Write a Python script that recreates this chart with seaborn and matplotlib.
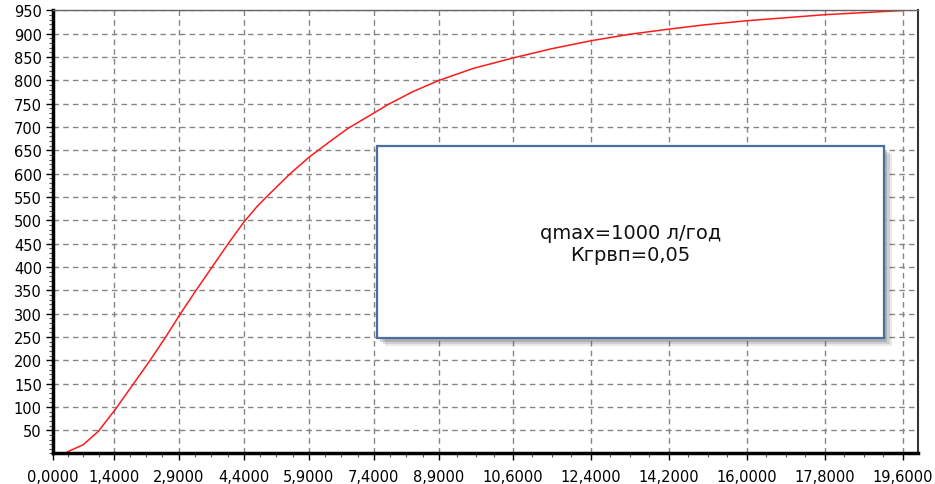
import numpy as np
import pandas as pd
import seaborn as sns
import matplotlib.pyplot as plt
from matplotlib.patches import Rectangle

# Curve
t_values = [0.32, 0.70, 1.05, 1.44, 1.86, 2.24, 2.60, 2.94, 3.30, 3.67, 4.04,
            4.40, 4.70, 4.93, 5.47, 5.90, 6.40, 6.80, 7.40, 7.72, 8.30,
            8.90, 9.70, 10.60, 11.50, 12.40, 13.30, 14.20, 15.00, 16.00,
            17.80, 19.60]
q_values = [3, 19, 48, 95, 150, 200, 250, 300, 350, 400, 450,
            496, 529, 551, 600, 635, 670, 697, 730, 748, 776,
            800, 826, 848, 868, 885, 899, 910, 919, 928,
            941, 950]

x_ticks = [0.0, 1.4, 2.9, 4.4, 5.9, 7.4, 8.9, 10.6, 12.4, 14.2, 16.0, 17.8, 19.6]
x_labels = ['0,0000', '1,4000', '2,9000', '4,4000', '5,9000', '7,4000', '8,9000',
            '10,6000', '12,4000', '14,2000', '16,0000', '17,8000', '19,6000']
y_ticks = list(range(50, 951, 50))

box_text = 'qmax=1000 л/год\nКгрвп=0,05'

df = pd.DataFrame({'t': t_values, 'q': q_values})

sns.set_style("white")
plt.rcParams['font.family'] = ['DejaVu Sans']

fig, ax = plt.subplots(figsize=(9.35, 4.85), dpi=100)
fig.subplots_adjust(left=0.0567, right=0.9818, top=0.9763, bottom=0.0629)

sns.lineplot(data=df, x='t', y='q', color='#ff1a1a', linewidth=1.1, ax=ax)

ax.set_xlim(0, 19.95)
ax.set_ylim(0, 950)
ax.set_xticks(x_ticks)
ax.set_xticklabels(x_labels)
ax.set_yticks(y_ticks)
ax.set_yticklabels([str(v) for v in y_ticks])

# minor ticks between the majors
minor_x = []
for a, b in zip(x_ticks[:-1], x_ticks[1:]):
    minor_x.extend(np.linspace(a, b, 5)[1:-1])
ax.set_xticks(minor_x, minor=True)
ax.set_yticks(np.arange(0, 951, 10), minor=True)

ax.grid(True, which='major', color='#858585', linestyle=(0, (4, 3)), linewidth=1.0)
ax.set_xlabel('')
ax.set_ylabel('')

ax.tick_params(axis='both', which='major', labelsize=10.5, colors='black',
               length=5, width=1, direction='out')
ax.tick_params(axis='x', which='major', pad=6)
ax.tick_params(axis='y', which='major', pad=3)
ax.tick_params(axis='both', which='minor', length=3, width=0.8,
               direction='out', color='#555555')
ax.tick_params(bottom=True, left=True, which='both')

ax.spines['left'].set_color('black')
ax.spines['left'].set_linewidth(2.5)
ax.spines['bottom'].set_color('black')
ax.spines['bottom'].set_linewidth(2.5)
ax.spines['right'].set_color('#333333')
ax.spines['right'].set_linewidth(1.5)
ax.spines['top'].set_color('#666666')
ax.spines['top'].set_linewidth(1.0)

# annotation box with a soft shadow
bx, by, bw, bh = 0.3746, 0.2607, 0.5861, 0.4333
for i, a in enumerate([0.12, 0.18, 0.25]):
    off = 0.004 + 0.0025 * (2 - i)
    ax.add_patch(Rectangle((bx + off, by - off * 2), bw, bh, transform=ax.transAxes,
                           facecolor='#555555', edgecolor='none', alpha=a, zorder=4))
ax.add_patch(Rectangle((bx, by), bw, bh, transform=ax.transAxes,
                       facecolor='white', edgecolor='#4a6e9e', linewidth=1.6, zorder=5))
ax.text(bx + bw / 2, 0.474, box_text, transform=ax.transAxes, ha='center', va='center',
        fontsize=14, color='#111111', linespacing=1.2, zorder=6)

plt.savefig('out.png', dpi=100)
